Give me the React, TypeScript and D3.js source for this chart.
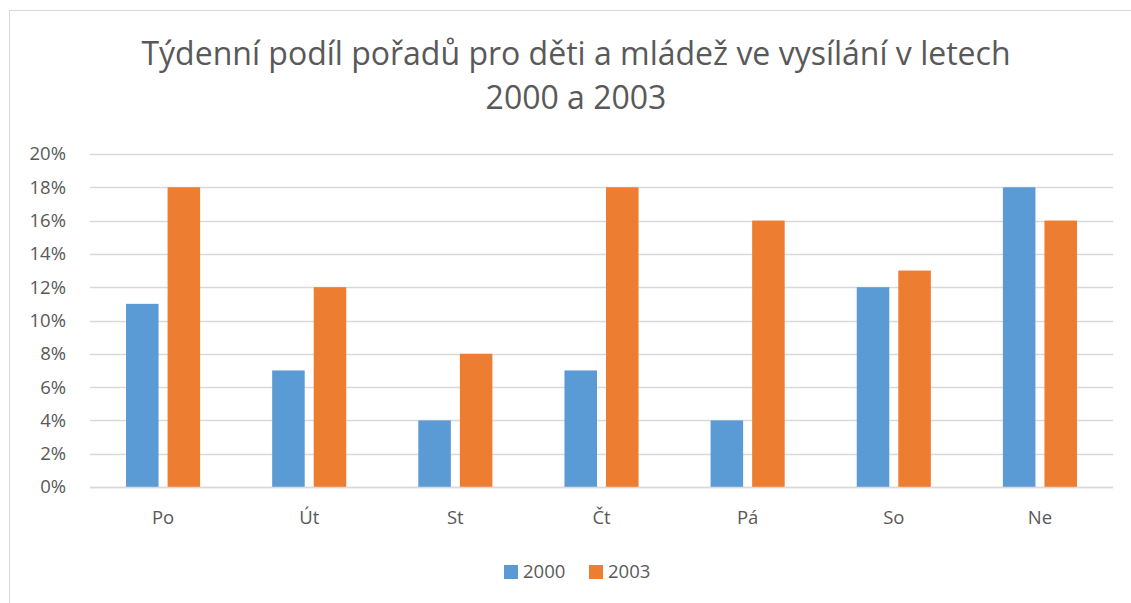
import React, { useEffect, useRef } from 'react';
import * as d3 from 'd3';

const days = ['Po', 'Út', 'St', 'Čt', 'Pá', 'So', 'Ne'];
const series = ['2000', '2003'];
const values2000 = [11, 7, 4, 7, 4, 12, 18];
const values2003 = [18, 12, 8, 18, 16, 13, 16];
const yTicks = [0, 2, 4, 6, 8, 10, 12, 14, 16, 18, 20];
const colors = ['#5b9bd5', '#ed7d31'];
const titleLines = ['Týdenní podíl pořadů pro děti a mládež ve vysílání v letech', '2000 a 2003'];

const FONT = '"Open Sans", "Noto Sans", sans-serif';

const App: React.FC = () => {
  const svgRef = useRef<SVGSVGElement>(null);

  useEffect(() => {
    if (!svgRef.current) return;
    const width = 1131;
    const height = 603;
    const margin = { top: 154, right: 18, bottom: 116, left: 90 };

    const svg = d3.select(svgRef.current).attr('width', width).attr('height', height);
    svg.selectAll('*').remove();

    // chart frame (cropped on right and bottom)
    svg.append('rect')
      .attr('x', 9.5).attr('y', 10.5)
      .attr('width', 1140).attr('height', 620)
      .attr('fill', '#fff').attr('stroke', '#d9d9d9');

    const x = d3.scaleBand()
      .domain(days)
      .range([margin.left, width - margin.right])
      .paddingInner(0)
      .paddingOuter(0);

    const inner = d3.scaleBand()
      .domain(series)
      .range([0, x.bandwidth()])
      .paddingInner(0.217)
      .paddingOuter(0.867);

    const y = d3.scaleLinear()
      .domain([0, 20])
      .range([height - margin.bottom, margin.top]);

    // gridlines
    svg.append('g')
      .selectAll('line')
      .data(yTicks)
      .join('line')
      .attr('x1', margin.left).attr('x2', width - margin.right)
      .attr('y1', d => Math.round(y(d)) + 0.5).attr('y2', d => Math.round(y(d)) + 0.5)
      .attr('stroke', '#d9d9d9').attr('stroke-width', 1.3);

    // y labels
    svg.append('g')
      .selectAll('text')
      .data(yTicks)
      .join('text')
      .attr('x', 66).attr('y', d => y(d))
      .attr('dy', '0.35em')
      .attr('text-anchor', 'end')
      .attr('font-family', FONT).attr('font-size', 18.5).attr('fill', '#595959')
      .text(d => `${d}%`);

    const data = [values2000, values2003];
    series.forEach((s, si) => {
      svg.append('g')
        .attr('fill', colors[si])
        .selectAll('rect')
        .data(days)
        .join('rect')
        .attr('x', d => (x(d) ?? 0) + (inner(s) ?? 0))
        .attr('y', (_, i) => y(data[si][i]))
        .attr('width', inner.bandwidth())
        .attr('height', (_, i) => y(0) - y(data[si][i]));
    });

    // baseline over bars
    svg.append('line')
      .attr('x1', margin.left).attr('x2', width - margin.right)
      .attr('y1', Math.round(y(0)) + 0.5).attr('y2', Math.round(y(0)) + 0.5)
      .attr('stroke', '#d9d9d9').attr('stroke-width', 1.3);

    // x labels
    svg.append('g')
      .selectAll('text')
      .data(days)
      .join('text')
      .attr('x', d => (x(d) ?? 0) + x.bandwidth() / 2)
      .attr('y', 524)
      .attr('text-anchor', 'middle')
      .attr('font-family', FONT).attr('font-size', 18.5).attr('fill', '#595959')
      .text(d => d);

    // title
    svg.append('g')
      .selectAll('text')
      .data(titleLines)
      .join('text')
      .attr('x', 576)
      .attr('y', (_, i) => 65 + i * 44)
      .attr('text-anchor', 'middle')
      .attr('font-family', FONT).attr('font-size', 32).attr('fill', '#595959')
      .text(d => d);

    // legend
    const legendX = [504, 589];
    const legend = svg.append('g')
      .selectAll('g')
      .data(series)
      .join('g')
      .attr('transform', (_, i) => `translate(${legendX[i]},565)`);
    legend.append('rect')
      .attr('width', 14).attr('height', 14)
      .attr('fill', (_, i) => colors[i]);
    legend.append('text')
      .attr('x', 19).attr('y', 7).attr('dy', '0.35em')
      .attr('font-family', FONT).attr('font-size', 18.5).attr('fill', '#595959')
      .text(d => d);
  }, []);

  return <svg ref={svgRef} style={{ position: 'absolute', left: 0, top: 0 }}></svg>;
};

export default App;
